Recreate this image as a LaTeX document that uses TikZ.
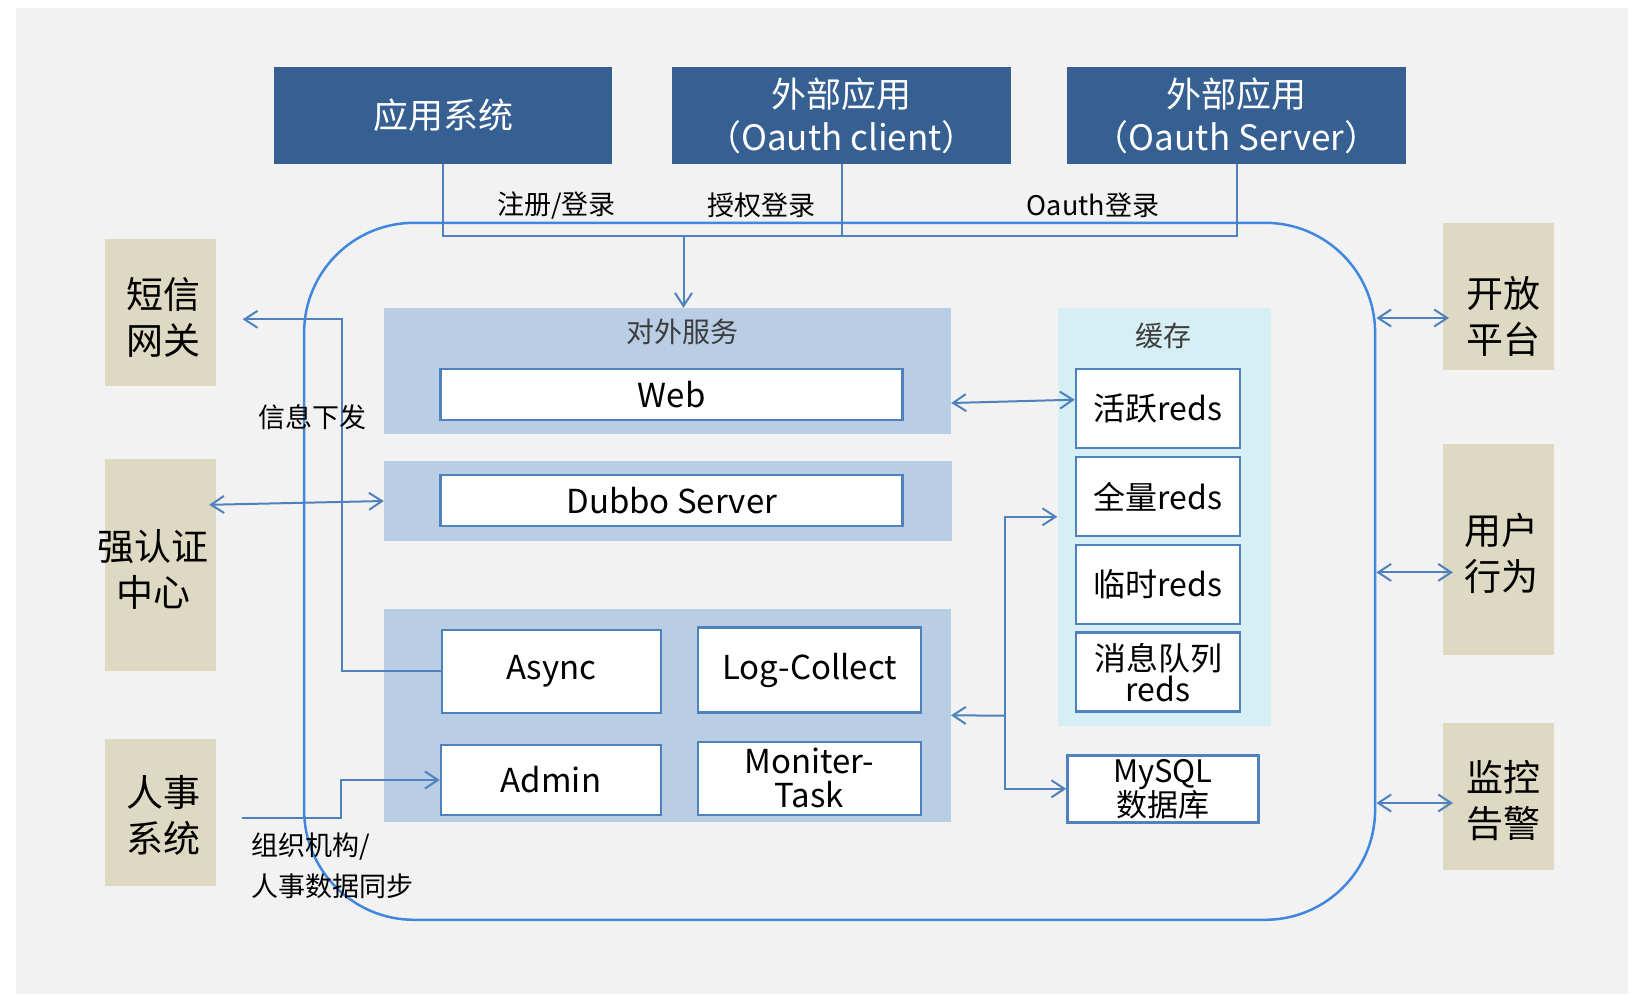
\documentclass[tikz,border=0pt]{standalone}
\usepackage{fontspec}
\setmainfont{Noto Sans CJK SC}
\usetikzlibrary{arrows.meta,calc}

\definecolor{hdrblue}{RGB}{55,96,146}
\definecolor{panelblue}{RGB}{185,205,229}
\definecolor{cachebg}{RGB}{214,239,244}
\definecolor{tanbg}{RGB}{221,217,195}
\definecolor{bggray}{RGB}{242,242,242}
\definecolor{lineblue}{RGB}{79,129,189}
\definecolor{coreblue}{RGB}{66,135,222}
\definecolor{ttlgray}{RGB}{60,60,60}

\begin{document}
\begin{tikzpicture}[x=1pt,y=1pt,yscale=-1,
    hdrbox/.style={fill=hdrblue,text=white,minimum width=339,minimum height=97,inner sep=0,align=center,font=\fontsize{35}{43}\selectfont},
    panel/.style={fill=panelblue,minimum width=567,inner sep=0},
    svcbox/.style={draw=lineblue,line width=2.5,fill=white,inner sep=0,align=center,font=\fontsize{33}{34}\selectfont},
    redsbox/.style={svcbox,minimum width=164,minimum height=79,font=\fontsize{32}{31}\selectfont},
    sidebox/.style={fill=tanbg,minimum width=111,inner sep=0},
    sidetext/.style={align=center,inner sep=0,font=\fontsize{37}{46}\selectfont},
    ttl/.style={text=ttlgray,font=\fontsize{28}{30}\selectfont},
    lbl/.style={align=left,font=\fontsize{27}{30}\selectfont},
    conn/.style={draw=lineblue,line width=2},
    >={Straight Barb[length=13pt,width=17pt]}]
        % background
        \fill[white] (0,0) rectangle (1643,1004);
        \fill[bggray] (16,8) rectangle (1628,994);
        \useasboundingbox (0,0) rectangle (1643,1004);
        
        %Shape: Rounded Rectangle
        \node[draw=coreblue,line width=2.5,rounded corners=110,minimum width=1071,minimum height=697,inner sep=0] (core) at (839.6,571.3) {};
        
        %Shape: Rectangle (top)
        \node[hdrbox,minimum width=338] (app) at (443,115.4) {应用系统};
        \node[hdrbox] (oclient) at (841.5,115.4) {外部应用\\（Oauth client）};
        \node[hdrbox] (oserver) at (1236.5,115.4) {外部应用\\（Oauth Server）};
        
        %Shape: Rectangle (panels)
        \node[panel,minimum height=126] (svcpanel) at (667.5,371) {};
        \node[panel,minimum width=568,minimum height=80] (dubpanel) at (668,501) {};
        \node[panel,minimum height=213] (jobpanel) at (667.3,715.3) {};
        \node[fill=cachebg,minimum width=213,minimum height=418,inner sep=0] (cachepanel) at (1164,516.8) {};
        
        % Text Node
        \node[ttl] (svcttl) at (682,332) {对外服务};
        % Text Node
        \node[ttl] (cachettl) at (1163,336) {缓存};
        
        %Shape: Rectangle (services)
        \node[svcbox,minimum width=462,minimum height=51] (web) at (671.7,394.5) {Web};
        \node[svcbox,minimum width=462,minimum height=51] (dubbo) at (671.7,500.7) {Dubbo Server};
        \node[svcbox,minimum width=219,minimum height=83] (async) at (551.3,671.4) {Async};
        \node[svcbox,minimum width=223,minimum height=85] (logc) at (809.7,670) {Log-Collect};
        \node[svcbox,minimum width=220,minimum height=70] (admin) at (551,780) {Admin};
        \node[svcbox,minimum width=223,minimum height=73] (moniter) at (809.5,778.4) {Moniter-\\Task};
        
        %Shape: Rectangle (cache)
        \node[redsbox] (active) at (1158,408.7) {活跃reds};
        \node[redsbox] (fullr) at (1158,496.5) {全量reds};
        \node[redsbox] (tempr) at (1158,584.3) {临时reds};
        \node[redsbox] (mqr) at (1158,672.2) {消息队列\\reds};
        \node[svcbox,minimum width=191,minimum height=67,font=\fontsize{31}{34}\selectfont] (mysql) at (1163,788.8) {MySQL\\数据库};
        
        %Shape: Rectangle (outer systems)
        \node[sidebox,minimum height=147] (sms) at (160.5,312) {};
        \node[sidebox,minimum height=212] (authc) at (160.5,564.8) {};
        \node[sidebox,minimum height=147] (hr) at (160.5,812) {};
        \node[sidebox,minimum height=147] (open) at (1498.5,296.8) {};
        \node[sidebox,minimum height=211] (ubeh) at (1498.5,549.8) {};
        \node[sidebox,minimum height=147] (alarm) at (1498.5,796.9) {};
        % Text Node
        \node[sidetext] (smstext) at (163.5,317.5) {短信\\网关};
        % Text Node
        \node[sidetext] (authtext) at (153,569) {强认证\\中心};
        % Text Node
        \node[sidetext] (hrtext) at (163.5,815.8) {人事\\系统};
        % Text Node
        \node[sidetext] (opentext) at (1503.7,316.5) {开放\\平台};
        % Text Node
        \node[sidetext] (ubehtext) at (1501.6,553.8) {用户\\行为};
        % Text Node
        \node[sidetext] (alarmtext) at (1503.7,800.6) {监控\\告警};
        
        %Straight Lines (login bus)
        \coordinate (busin) at (683.5,235.7);
        \draw[conn] (app.south) |- (oserver.south |- busin) -- (oserver.south);
        \draw[conn] (oclient.south) -- (oclient.south |- busin);
        \draw[conn,->] (busin) -- (busin |- svcpanel.north);
        
        % Text Node
        \node[lbl] (regl) at (556.5,205.4) {注册/登录};
        % Text Node
        \node[lbl] (grantl) at (761.8,205.4) {授权登录};
        % Text Node
        \node[lbl] (oauthl) at (1093,205.4) {Oauth登录};
        
        %Straight Lines
        \draw[conn,<->] ($(svcpanel.east)+(0,32)$) -- ($(active.west)+(0,-9)$);
        
        %Straight Lines (message push)
        \coordinate (smsbend) at (341.7,319.3);
        \coordinate (smstip) at (242.7,319.3);
        \draw[conn,->] (async.west) -| (smsbend) -- (smstip);
        % Text Node
        \node[lbl] (pushl) at (312,417) {信息下发};
        
        %Straight Lines
        \draw[conn,<->] ($(authc.east)+(-7,-60)$) -- (dubpanel.west);
        
        %Straight Lines (hr sync)
        \coordinate (hrout) at (241.7,817.7);
        \coordinate (hrbend) at (341,780);
        \draw[conn,->] (hrout) -| (hrbend) -- (admin.west);
        % Text Node
        \node[lbl,anchor=west] (orgl) at (248.3,846.7) {组织机构/};
        % Text Node
        \node[lbl,anchor=west] (syncl) at (248.3,886.7) {人事数据同步};
        
        %Straight Lines (storage)
        \coordinate (jn) at (1005,715.7);
        \draw[conn,->] (jn) -- (jobpanel.east);
        \draw[conn,->] (jn) |- (cachepanel.west);
        \draw[conn,->] (jn) |- (mysql.west);
        
        %Straight Lines (right side)
        \coordinate (openin) at (1449,318);
        \coordinate (ubehin) at (1453,572.4);
        \coordinate (alarmin) at (1453,803);
        \draw[conn,<->] (core.east |- openin) -- (openin);
        \draw[conn,<->] (core.east |- ubehin) -- (ubehin);
        \draw[conn,<->] (core.east |- alarmin) -- (alarmin);
\end{tikzpicture}
\end{document}
